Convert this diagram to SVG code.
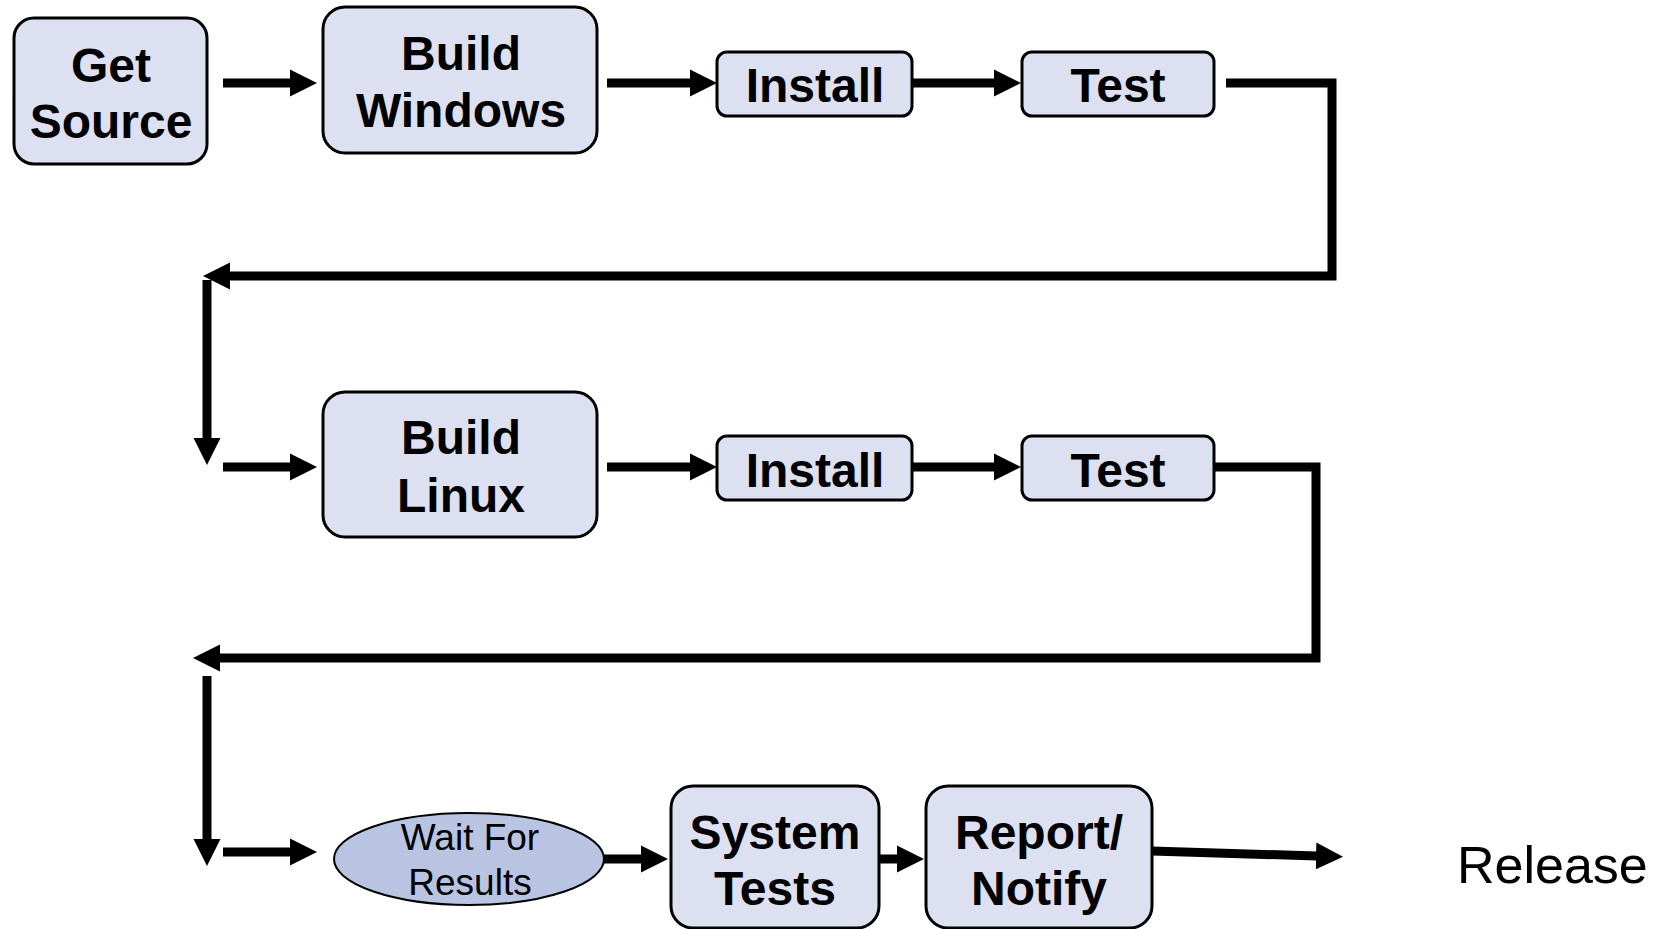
<svg xmlns="http://www.w3.org/2000/svg" width="1656" height="929" viewBox="0 0 1656 929">
<style>
.box{fill:#dde0f1;stroke:#000;stroke-width:3}
.ell{fill:#b9c3e2;stroke:#000;stroke-width:2}
.b{font-family:"Liberation Sans",Arial,sans-serif;font-weight:bold;font-size:48px;fill:#000;text-anchor:middle}
.r{font-family:"Liberation Sans",Arial,sans-serif;font-size:37px;fill:#000;text-anchor:middle}
.rel{font-family:"Liberation Sans",Arial,sans-serif;font-size:52px;fill:#000}
.c{fill:none;stroke:#000;stroke-width:9;marker-end:url(#ah)}
</style>
<defs>
<marker id="ah" markerUnits="userSpaceOnUse" markerWidth="28" markerHeight="28" refX="1" refY="13.5" orient="auto" viewBox="0 0 28 27">
<path d="M0,0 L27,13.5 L0,27 z" fill="#000"/>
</marker>
</defs>
<rect width="1656" height="929" fill="#fff"/>
<g id="connectors">
<path class="c" d="M223,83 H291"/>
<path class="c" d="M607,83 H691"/>
<path class="c" d="M912,83 H995"/>
<path class="c" d="M1226,83 H1332 V276 H229"/>
<path class="c" d="M207,280 V439"/>
<path class="c" d="M223,467 H291"/>
<path class="c" d="M607,467 H691"/>
<path class="c" d="M912,467 H995"/>
<path class="c" d="M1210,467 H1316 V658 H219"/>
<path class="c" d="M207,676 V840"/>
<path class="c" d="M223,852 H291"/>
<path class="c" d="M604,859 H642"/>
<path class="c" d="M879,859 H898"/>
<path class="c" d="M1152,851 L1317,856"/>
</g>
<g id="get-source">
<rect class="box" x="14" y="18" width="193" height="146" rx="20"/>
<text class="b" x="111" y="82">Get</text>
<text class="b" x="111" y="138">Source</text>
</g>
<g id="build-windows">
<rect class="box" x="323" y="7" width="274" height="146" rx="22"/>
<text class="b" x="461" y="70">Build</text>
<text class="b" x="461" y="127">Windows</text>
</g>
<g id="install-1">
<rect class="box" x="717" y="52" width="195" height="64" rx="10"/>
<text class="b" x="815" y="102">Install</text>
</g>
<g id="test-1">
<rect class="box" x="1022" y="52" width="192" height="64" rx="10"/>
<text class="b" x="1118" y="102">Test</text>
</g>
<g id="build-linux">
<rect class="box" x="323" y="392" width="274" height="145" rx="22"/>
<text class="b" x="461" y="454">Build</text>
<text class="b" x="461" y="512">Linux</text>
</g>
<g id="install-2">
<rect class="box" x="717" y="436" width="195" height="64" rx="10"/>
<text class="b" x="815" y="487">Install</text>
</g>
<g id="test-2">
<rect class="box" x="1022" y="436" width="192" height="64" rx="10"/>
<text class="b" x="1118" y="487">Test</text>
</g>
<g id="wait-for-results">
<ellipse class="ell" cx="469" cy="859" rx="135" ry="46"/>
<text class="r" x="470" y="850">Wait For</text>
<text class="r" x="470" y="895">Results</text>
</g>
<g id="system-tests">
<rect class="box" x="671" y="786" width="208" height="142" rx="22"/>
<text class="b" x="775" y="849">System</text>
<text class="b" x="775" y="905">Tests</text>
</g>
<g id="report-notify">
<rect class="box" x="926" y="786" width="226" height="142" rx="22"/>
<text class="b" x="1039" y="849">Report/</text>
<text class="b" x="1039" y="905">Notify</text>
</g>
<g id="release">
<text class="rel" x="1457" y="883">Release</text>
</g>
</svg>
